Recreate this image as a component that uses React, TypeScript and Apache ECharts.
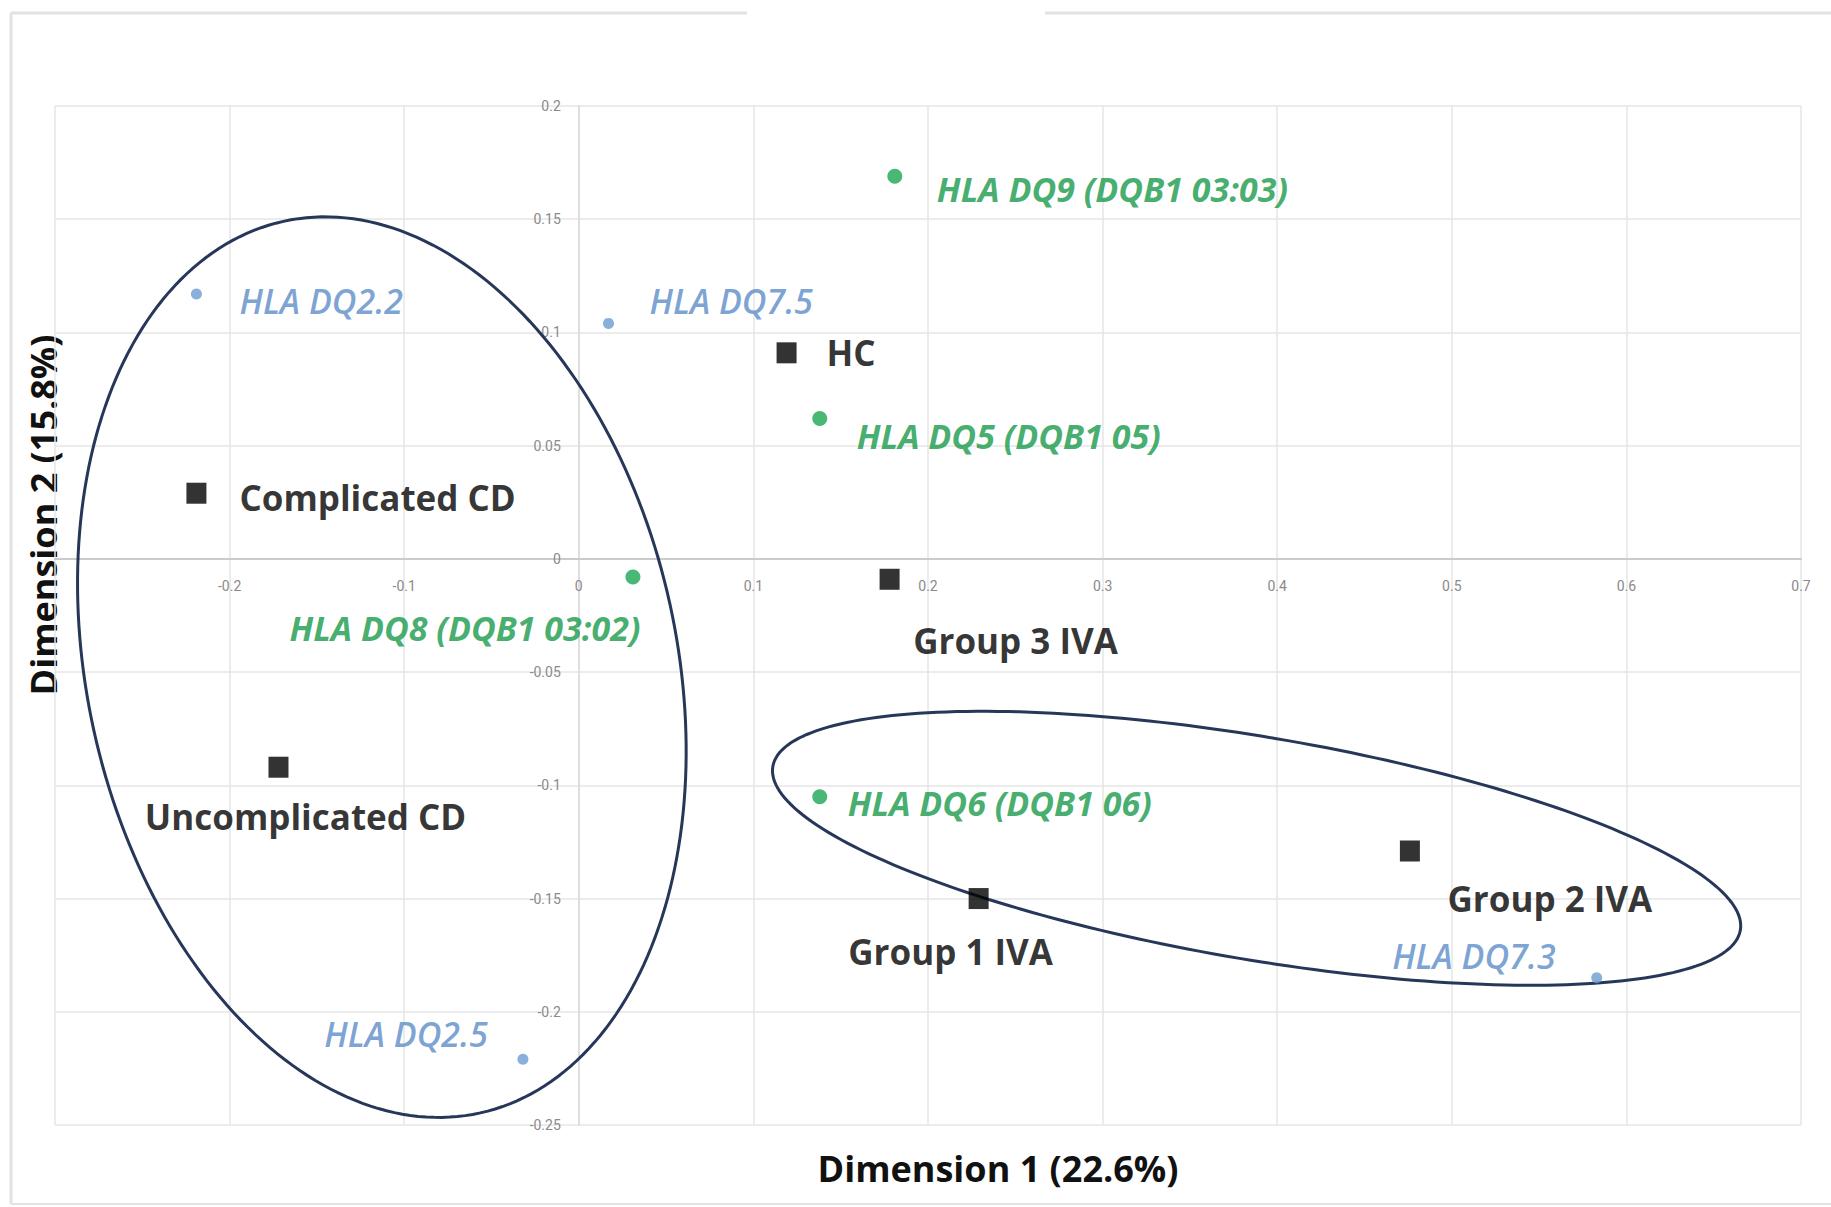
import React, { useEffect, useRef } from "react";
import * as echarts from "echarts";

// ---- Data ----
const blueNames = ["HLA DQ2.2", "HLA DQ7.5", "HLA DQ2.5", "HLA DQ7.3"];
const blueX = [-0.219, 0.017, -0.032, 0.583];
const blueY = [0.117, 0.104, -0.221, -0.185];

const greenNames = ["HLA DQ9 (DQB1 03:03)", "HLA DQ5 (DQB1 05)", "HLA DQ8 (DQB1 03:02)", "HLA DQ6 (DQB1 06)"];
const greenX = [0.181, 0.138, 0.031, 0.138];
const greenY = [0.169, 0.062, -0.008, -0.105];

const groupNames = ["HC", "Complicated CD", "Group 3 IVA", "Uncomplicated CD", "Group 1 IVA", "Group 2 IVA"];
const groupX = [0.119, -0.219, 0.178, -0.172, 0.229, 0.476];
const groupY = [0.091, 0.029, -0.009, -0.092, -0.150, -0.129];

// ellipses: centre (data), semi-axes (data units) and tilt (degrees, anticlockwise)
const ellipseCX = [-0.1128, 0.3882];
const ellipseCY = [-0.0478, -0.1278];
const ellipseRX = [0.1689, 0.281];
const ellipseRY = [0.2016, 0.0492];
const ellipseAngle = [12.45, -9.6];

const xTicks = { min: -0.3, max: 0.7, interval: 0.1 };
const yTicks = { min: -0.25, max: 0.2, interval: 0.05 };

const xTitle = "Dimension 1 (22.6%)";
const yTitle = "Dimension 2 (15.8%)";

// ---- layout ----
const W = 1831;
const H = 1207;
const GRID = { left: 55, right: 30, top: 106, bottom: 82 };

// label placement (pixels, relative to marker centre)
const labelPlace: Record<string, [string, number, number]> = {
  "HLA DQ2.2": ["left", 43, 7],
  "HLA DQ7.5": ["left", 41, -22],
  "HLA DQ2.5": ["right", -35, -25],
  "HLA DQ7.3": ["right", -41, -22],
  "HLA DQ9 (DQB1 03:03)": ["left", 42, 13],
  "HLA DQ5 (DQB1 05)": ["left", 37, 18],
  "HLA DQ8 (DQB1 03:02)": ["center", -168, 51],
  "HLA DQ6 (DQB1 06)": ["left", 28, 6],
  HC: ["left", 40, 0],
  "Complicated CD": ["left", 43, 4],
  "Group 3 IVA": ["center", 126, 61],
  "Uncomplicated CD": ["center", 27, 49],
  "Group 1 IVA": ["center", -28, 53],
  "Group 2 IVA": ["center", 140, 47],
};

const BLUE = "#5A8BC8";
const BLUE_DOT = "#6B9BD2";
const GREEN = "#17994A";
const GREEN_DOT = "#1CA654";
const NAVY = "#27375A";
const FONT = "'Open Sans', 'Noto Sans', sans-serif";

function items(names: string[], xs: number[], ys: number[], labelStyle: any) {
  return names.map((n, i) => {
    const p = labelPlace[n];
    return {
      name: n,
      value: [xs[i], ys[i]],
      label: {
        show: true,
        formatter: n,
        position: "inside",
        align: p[0],
        verticalAlign: "middle",
        offset: [p[1], p[2]],
        ...labelStyle,
      },
    };
  });
}

export default function App() {
  const ref = useRef<HTMLDivElement>(null);
  useEffect(() => {
    if (!ref.current) return;
    const chart = echarts.init(ref.current, undefined, { renderer: "svg" });
    const ellipseData = ellipseCX.map((c, i) => [c, ellipseCY[i], ellipseRX[i], ellipseRY[i], ellipseAngle[i]]);
    const frameColor = "#E2E2E2";
    const gridW = W - GRID.left - GRID.right;
    const gridH = H - GRID.top - GRID.bottom;
    // put each axis where the other axis is zero (axes cross at the origin)
    const xOffset = -gridH * ((0 - yTicks.min) / (yTicks.max - yTicks.min));
    const yOffset = -gridW * ((0 - xTicks.min) / (xTicks.max - xTicks.min));
    chart.setOption({
      animation: false,
      backgroundColor: "#ffffff",
      grid: { ...GRID, containLabel: false },
      xAxis: {
        type: "value",
        min: xTicks.min,
        max: xTicks.max,
        interval: xTicks.interval,
        offset: xOffset,
        axisLine: { onZero: false, lineStyle: { color: "#CBCBCB", width: 2 } },
        axisTick: { show: false },
        splitLine: { show: true, lineStyle: { color: "#E6E6E6", width: 1.5 } },
        axisLabel: { showMinLabel: false, margin: 20, fontSize: 14, color: "#8A8A8A", fontFamily: "Roboto" },
      },
      yAxis: {
        type: "value",
        min: yTicks.min,
        max: yTicks.max,
        interval: yTicks.interval,
        offset: yOffset,
        axisLine: { onZero: false, lineStyle: { color: "#DADADA", width: 1.5 } },
        axisTick: { show: false },
        splitLine: { show: true, lineStyle: { color: "#E6E6E6", width: 1.5 } },
        axisLabel: { margin: 18, fontSize: 14, color: "#8A8A8A", fontFamily: "Roboto" },
      },
      graphic: [
        { type: "line", shape: { x1: 11, y1: 13, x2: 11, y2: 1204 }, style: { stroke: frameColor, lineWidth: 3 } },
        { type: "line", shape: { x1: 11, y1: 13, x2: 747, y2: 13 }, style: { stroke: frameColor, lineWidth: 3 } },
        { type: "line", shape: { x1: 1045, y1: 13, x2: 1831, y2: 13 }, style: { stroke: frameColor, lineWidth: 3 } },
        { type: "line", shape: { x1: 11, y1: 1204, x2: 1831, y2: 1204 }, style: { stroke: frameColor, lineWidth: 2 } },
        {
          type: "text",
          x: 998,
          y: 1168,
          style: { text: xTitle, fontSize: 36, fontWeight: "bold", fontFamily: FONT, fill: "#111", align: "center", verticalAlign: "middle" },
        },
        {
          type: "text",
          x: 43,
          y: 515,
          rotation: Math.PI / 2,
          style: { text: yTitle, fontSize: 36, fontWeight: "bold", fontFamily: FONT, fill: "#111", align: "center", verticalAlign: "middle" },
        },
      ],
      series: [
        {
          type: "custom",
          name: "clusters",
          silent: true,
          clip: false,
          z: 1,
          encode: { x: 0, y: 1 },
          data: ellipseData,
          renderItem: (params: any, api: any) => {
            const c = api.coord([api.value(0), api.value(1)]);
            const rx = api.size([api.value(2), 0])[0];
            const ry = api.size([0, api.value(3)])[1];
            const phi = (api.value(4) * Math.PI) / 180;
            const pts: number[][] = [];
            const n = 240;
            for (let k = 0; k <= n; k++) {
              const t = (k / n) * Math.PI * 2;
              const lx = rx * Math.cos(t);
              const ly = ry * Math.sin(t);
              pts.push([c[0] + lx * Math.cos(phi) + ly * Math.sin(phi), c[1] - lx * Math.sin(phi) + ly * Math.cos(phi)]);
            }
            return {
              type: "polygon",
              shape: { points: pts },
              style: { fill: "none", stroke: NAVY, lineWidth: 3 },
            };
          },
        },
        {
          type: "scatter",
          name: "HLA (blue)",
          z: 3,
          symbol: "circle",
          symbolSize: 11,
          itemStyle: { color: BLUE_DOT },
          data: items(blueNames, blueX, blueY, {
            color: BLUE,
            fontSize: 34,
            fontStyle: "italic",
            fontWeight: 600,
            fontFamily: FONT,
          }),
        },
        {
          type: "scatter",
          name: "HLA (green)",
          z: 3,
          symbol: "circle",
          symbolSize: 15,
          itemStyle: { color: GREEN_DOT },
          data: items(greenNames, greenX, greenY, {
            color: GREEN,
            fontSize: 34,
            fontStyle: "italic",
            fontWeight: "bold",
            fontFamily: FONT,
          }),
        },
        {
          type: "scatter",
          name: "Groups",
          z: 4,
          symbol: "rect",
          symbolSize: [20, 21],
          itemStyle: { color: "#000000" },
          data: items(groupNames, groupX, groupY, {
            color: "#000000",
            fontSize: 35,
            fontWeight: "bold",
            fontFamily: FONT,
          }),
        },
      ],
    });
    return () => chart.dispose();
  }, []);
  return <div ref={ref} style={{ position: "fixed", left: 0, top: 0, width: W, height: H }} />;
}
